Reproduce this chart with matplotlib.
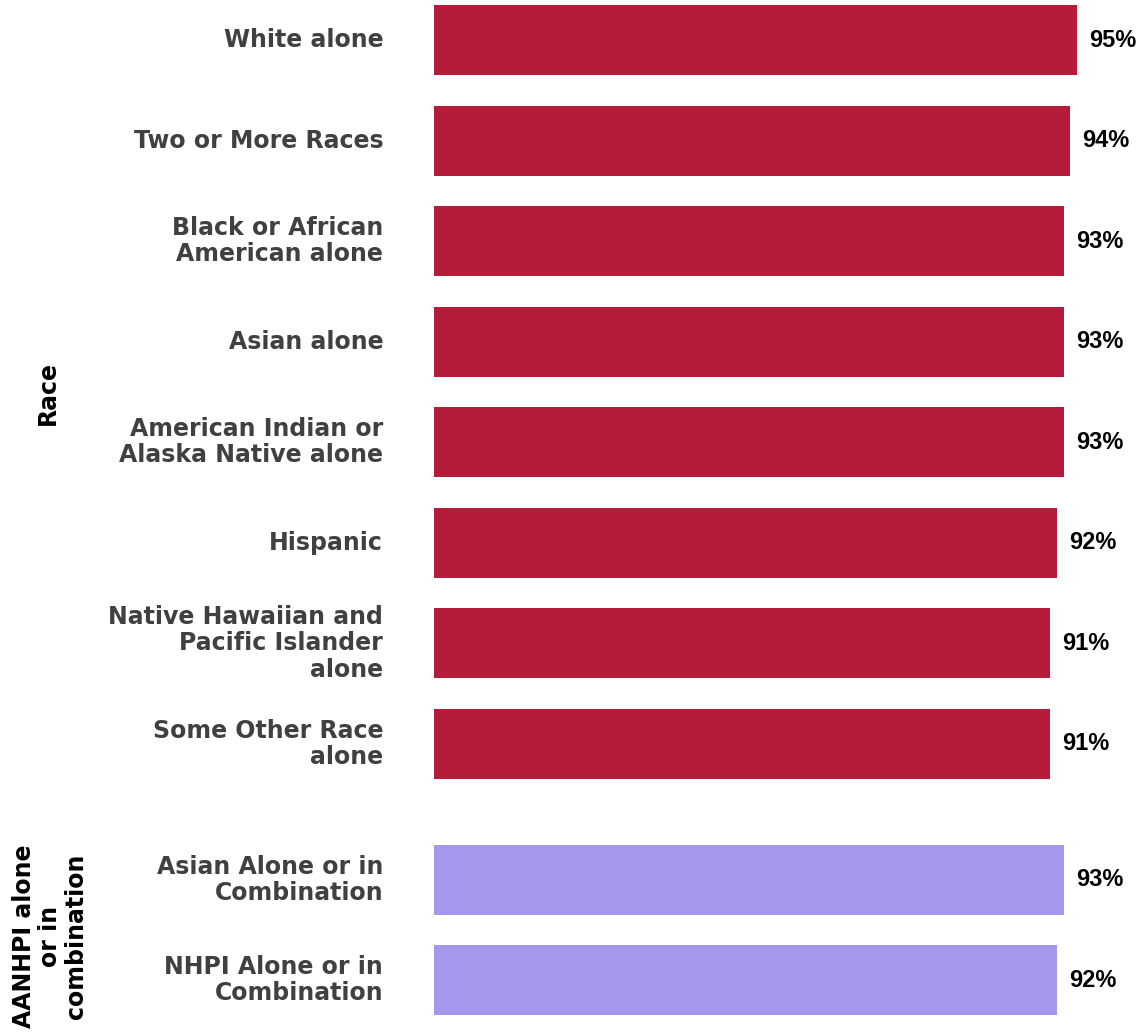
import matplotlib.pyplot as plt

# share of each group, in percent
race_labels = ["White alone", "Two or More Races", "Black or African\nAmerican alone",
               "Asian alone", "American Indian or\nAlaska Native alone", "Hispanic",
               "Native Hawaiian and\nPacific Islander\nalone", "Some Other Race\nalone"]
race_values = [95, 94, 93, 93, 93, 92, 91, 91]
aic_labels = ["Asian Alone or in\nCombination", "NHPI Alone or in\nCombination"]
aic_values = [93, 92]

red = "#B51C3A"
lavender = "#A398EE"
label_font = "DejaVu Sans"
value_font = "Liberation Sans"

# row positions, with a gap between the two groups
race_pos = list(range(len(race_labels)))
aic_pos = [len(race_labels) + 0.353 + i for i in range(len(aic_labels))]

fig = plt.figure(figsize=(11.46, 10.32), dpi=100)
ax = fig.add_axes([434 / 1146, 0, 677 / 1146, 1])

ax.barh(race_pos, race_values, height=0.697, color=red)
ax.barh(aic_pos, aic_values, height=0.697, color=lavender)

for p, v in zip(race_pos + aic_pos, race_values + aic_values):
    ax.text(v + 1.8, p, f"{v}%", va="center", ha="left", fontsize=17,
            fontweight="bold", family=value_font, color="black")

for p, lab in zip(race_pos + aic_pos, race_labels + aic_labels):
    ax.text(-7.5, p, lab, va="center", ha="right", fontsize=17,
            fontweight="bold", family=label_font, color="#404040",
            linespacing=1.12)

ax.set_xlim(0, 100)
ax.set_ylim(9.868, -0.4)
ax.axis("off")

# group titles on the left
fig.text(48 / 1146, 1 - 393 / 1032, "Race", rotation=90, ha="center", va="center",
         fontsize=17, fontweight="bold", family=label_font, color="black")
fig.text(50 / 1146, 1 - 936 / 1032, "AANHPI alone\nor in\ncombination", rotation=90,
         ha="center", va="center", multialignment="center", fontsize=17,
         fontweight="bold", family=label_font, color="black", linespacing=1.12)

fig.savefig("out.png", dpi=100)
